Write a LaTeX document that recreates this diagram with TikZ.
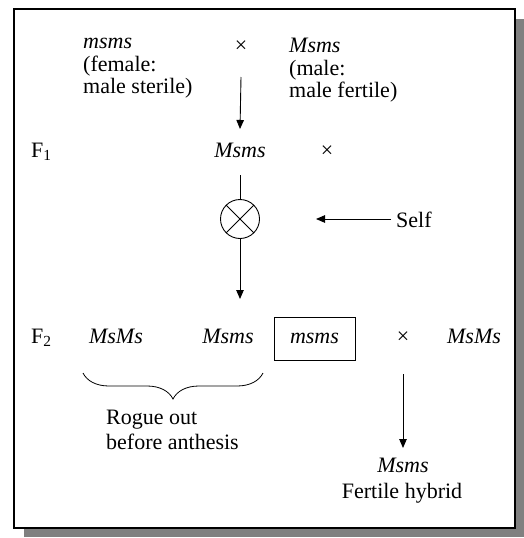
\documentclass[tikz,border=0pt]{standalone}
\usepackage{fontspec}
\setmainfont{Liberation Serif}
\usetikzlibrary{arrows.meta,decorations.pathreplacing}
\begin{document}
\begin{tikzpicture}[x=1pt,y=-1pt,
  txt/.style={inner sep=0pt,font=\fontsize{22}{22.5}\selectfont},
  gen/.style={txt,font=\fontsize{22}{22.5}\selectfont\itshape},
  conn/.style={line width=0.9pt,-{Triangle[length=9pt,width=7.5pt]}},
  plain/.style={line width=0.9pt}]
\useasboundingbox (0,0) rectangle (524,538);
% frame with shadow
\fill[black!50] (24,19) rectangle (524,537);
\draw[line width=2pt,fill=white] (13.5,9) rectangle (515,528);
% parents
\node[txt,anchor=north west,align=left] (pf) at (83,38) {\textit{msms}\\(female:\\male sterile)};
\node[txt,anchor=base] (x1) at (241,52) {×};
\node[txt,anchor=north west,align=left] (pm) at (289,38) {\textit{Msms}\\(male:\\male fertile)};
\coordinate (a1s) at (241,77);
% F1
\node[txt,anchor=base west] (F1) at (31,157) {F\textsubscript{1}};
\node[gen,anchor=base] (f1) at (240,157) {Msms};
\node[txt,anchor=base] (x2) at (327,157) {×};
\draw[conn] (a1s) -- (f1.north |- 0,129);
% selfing
\node[draw,circle,line width=0.9pt,minimum size=39pt,inner sep=0pt] (s) at (240,219) {};
\draw[plain] (s.45) -- (s.225) (s.135) -- (s.315);
\draw[plain] (f1.south |- 0,175) -- (s.north);
\coordinate (a2e) at (240,299);
\draw[conn] (s.south) -- (a2e);
\node[txt,anchor=base west] (self) at (396,227) {Self};
\draw[conn] (self.west |- s) ++(-5,0) coordinate (sst) -- (316,219) coordinate (sen);
% F2
\node[txt,anchor=base west] (F2) at (31,343) {F\textsubscript{2}};
\node[gen,anchor=base] (g1) at (116,343) {MsMs};
\node[gen,anchor=base] (g2) at (228,343) {Msms};
\node[draw,line width=0.9pt,minimum width=81pt,minimum height=43pt,inner sep=0pt,font=\fontsize{22}{22.5}\selectfont\itshape] (g3) at (314.5,338.5) {msms};
\node[txt,anchor=base] (x3) at (403,343) {×};
\node[gen,anchor=base] (g4) at (474,343) {MsMs};
% brace
\coordinate (bl) at (83,373);
\coordinate (br) at (263,373);
\draw[plain,line width=0.8pt,decorate,decoration={brace,mirror,amplitude=26pt}] (bl) -- (br);
\node[txt,anchor=north west,align=left,font=\fontsize{22}{25}\selectfont] (rogue) at (106,410) {Rogue out\\before anthesis};
% hybrid
\coordinate (a3s) at (403,374);
\node[gen,anchor=base] (hy) at (403,472) {Msms};
\node[txt,anchor=base] (hyl) at (402,498) {Fertile hybrid};
\draw[conn] (a3s) -- (403,448);
\end{tikzpicture}
\end{document}
